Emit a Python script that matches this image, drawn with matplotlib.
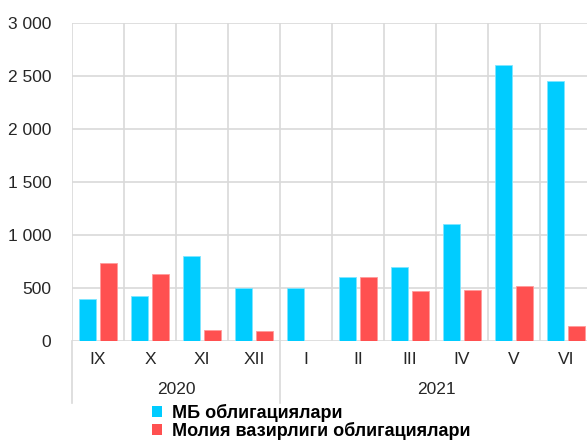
import matplotlib
matplotlib.use("Agg")
import matplotlib.pyplot as plt
from matplotlib.patches import Patch
from matplotlib.ticker import FuncFormatter
import numpy as np

plt.rcParams['font.family'] = ['Liberation Sans', 'DejaVu Sans']

months = ["IX", "X", "XI", "XII", "I", "II", "III", "IV", "V", "VI"]
years = ["2020", "2021"]
year_sizes = [4, 6]
mb_bonds = [400, 420, 800, 500, 500, 600, 700, 1100, 2600, 2450]
mof_bonds = [740, 630, 100, 95, 0, 600, 470, 480, 520, 145]
series_names = ["МБ облигациялари", "Молия вазирлиги облигациялари"]
yticks = [0, 500, 1000, 1500, 2000, 2500, 3000]

blue = "#00CCFF"
red = "#FF5050"
grid_c = "#D9D9D9"
txt_c = "#262626"

fig = plt.figure(figsize=(5.87, 4.43), dpi=100)
ax = fig.add_axes([72/587, 1-341/443, (592-72)/587, (341-23)/443])

x = np.arange(len(months))
w = 0.33
ax.bar(x - 0.2, mb_bonds, width=w, color=blue, edgecolor="#7FE5FF", linewidth=0.6, zorder=3)
ax.bar(x + 0.2, mof_bonds, width=w, color=red, edgecolor="#FF9A9A", linewidth=0.6, zorder=3)

ax.set_xlim(-0.5, len(months) - 0.5)
ax.set_ylim(0, 3000)
ax.set_yticks(yticks)
ax.yaxis.set_major_formatter(FuncFormatter(lambda v, p: f"{int(v):,}".replace(",", " ")))
ax.set_xticks(x)
ax.set_xticklabels(months)
ax.tick_params(axis='both', length=0, labelsize=12.5, colors=txt_c)
ax.tick_params(axis='x', pad=8)
ax.tick_params(axis='y', pad=15)

for s in ax.spines.values():
    s.set_visible(False)

# grid
for v in yticks:
    ax.axhline(v, color=grid_c, lw=1.2, zorder=1)
for b in np.arange(-0.5, len(months), 1.0):
    ax.axvline(b, color=grid_c, lw=1.2, zorder=1)

# group separators and year labels
trans = ax.get_xaxis_transform()
ext = -(403-341)/318
start = -0.5
for yr, n in zip(years, year_sizes):
    ax.plot([start, start], [0, ext], color=grid_c, lw=1.2, transform=trans, clip_on=False)
    ax.text(start + n/2, -(389-341)/318, yr, transform=trans, ha='center', va='center',
            fontsize=12.5, color=txt_c)
    start += n
ax.plot([start, start], [0, ext], color=grid_c, lw=1.2, transform=trans, clip_on=False)

handles = [Patch(facecolor=blue, edgecolor='none'), Patch(facecolor=red, edgecolor='none')]
fig.legend(handles, series_names, loc='upper left', bbox_to_anchor=(139/587, 1-391/443),
           frameon=False, prop={'weight': 'bold', 'size': 13}, handlelength=0.55,
           handleheight=0.55, handletextpad=0.55, labelspacing=0.0, borderpad=0.2)

fig.savefig("out.png", dpi=100)
